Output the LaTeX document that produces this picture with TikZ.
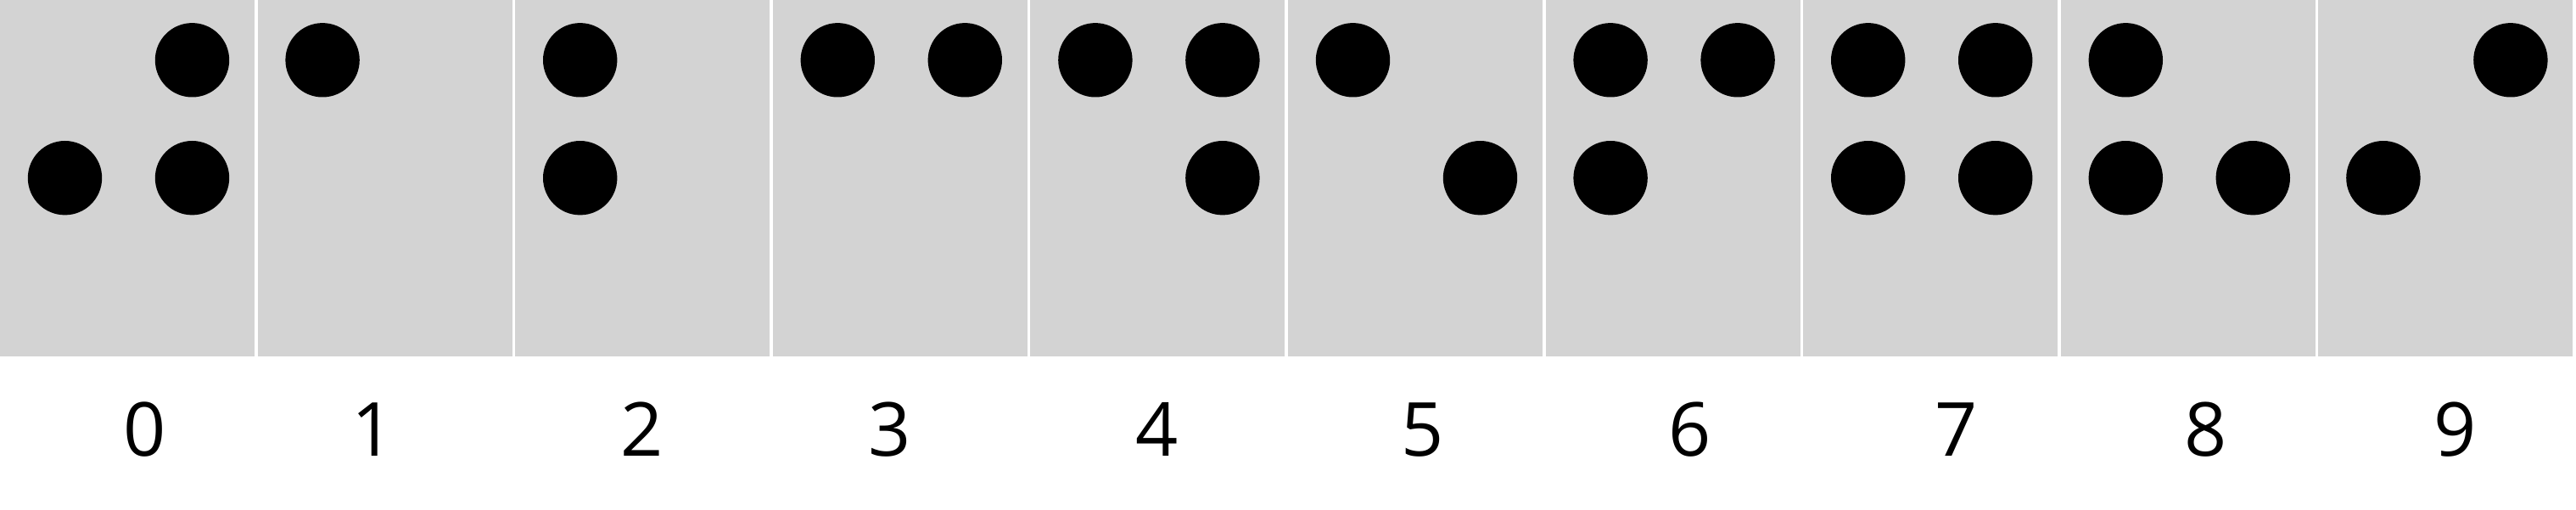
\documentclass[tikz,border=0pt]{standalone}
\usepackage{fontspec}
\setmainfont{Open Sans}
\usepackage{tikz}
\definecolor{cellgray}{HTML}{D3D3D3}
\def\pitch{3.036}
\def\dotr{0.437}

\begin{document}
\begin{tikzpicture}[font=\fontsize{25}{30}\selectfont]
    \useasboundingbox (0,0) rectangle (30.36,6);
    \foreach \i in {0,...,9} {
        \fill[cellgray] (\i*\pitch,1.8) rectangle ++(3.0,4.2);
        \coordinate (c\i-1) at (\i*\pitch+0.765,5.292);
        \coordinate (c\i-2) at (\i*\pitch+0.765,3.903);
        \coordinate (c\i-4) at (\i*\pitch+2.265,5.292);
        \coordinate (c\i-5) at (\i*\pitch+2.265,3.903);
    }
    % braille dots: 1,2 left column, 4,5 right column
    \foreach \i/\cell in {0/{2,4,5},1/{1},2/{1,2},3/{1,4},4/{1,4,5},
                          5/{1,5},6/{1,2,4},7/{1,2,4,5},8/{1,2,5},9/{2,4}} {
        \foreach \d in \cell
            \fill (c\i-\d) circle (\dotr);
    }
    \foreach \i/\x in {0/1.705,1/4.40,2/7.57,3/10.49,4/13.64,
                       5/16.77,6/19.92,7/23.055,8/25.996,9/28.94}
        \node[anchor=base] (lbl\i) at (\x,0.63) {\i};
\end{tikzpicture}
\end{document}
